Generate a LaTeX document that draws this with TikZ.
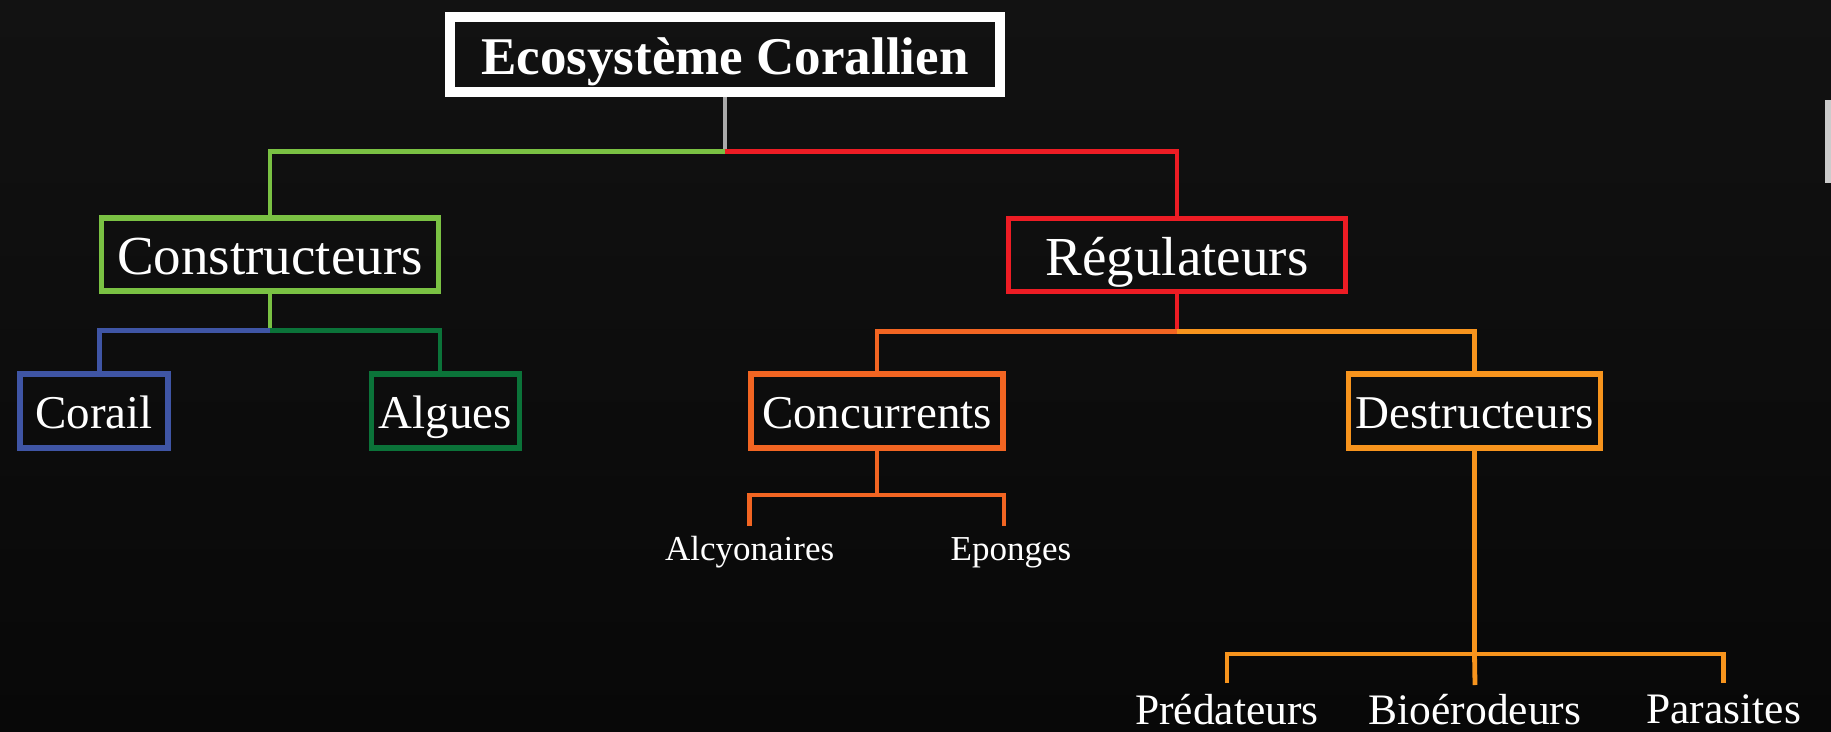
\documentclass[tikz,border=0pt]{standalone}
\usepackage{fontspec}
\setmainfont{Liberation Serif}
\definecolor{bgA}{HTML}{121212}
\definecolor{bgB}{HTML}{080808}
\definecolor{cgreen}{HTML}{7AC143}
\definecolor{cred}{HTML}{ED1C24}
\definecolor{cblue}{HTML}{3F55A5}
\definecolor{cdkgreen}{HTML}{0B7339}
\definecolor{corange}{HTML}{F26522}
\definecolor{cyellow}{HTML}{F7941D}
\definecolor{cgray}{HTML}{AAAAAA}
\definecolor{cscroll}{HTML}{CCCCCC}
\begin{document}
\begin{tikzpicture}[x=1pt,y=-1pt,
  box/.style={draw, line width=5.5pt, inner sep=0pt, text=white, text depth=0pt},
  lvltwo/.style={box, font=\fontsize{55}{60}\selectfont, text height=40pt, minimum width=337pt, minimum height=73pt},
  lvlthree/.style={box, font=\fontsize{47}{52}\selectfont, text height=35pt, minimum height=74.4pt},
  leafsmall/.style={text=white, inner sep=0pt, anchor=north, font=\fontsize{35}{40}\selectfont},
  leafbig/.style={text=white, inner sep=0pt, anchor=north, font=\fontsize{43.5}{48}\selectfont},
  conn/.style={line width=4.8pt}
]
\shade[top color=bgA, bottom color=bgB] (0,0) rectangle (1831,731);
\useasboundingbox (0,0) rectangle (1831,731);
\fill[cscroll] (1825,100) rectangle (1831,183);

% nodes
\node[box, draw=white, line width=10pt, minimum width=550.5pt, minimum height=75.3pt,
      text height=40pt, font=\bfseries\fontsize{53}{60}\selectfont] (title) at (725,54.4) {Ecosystème Corallien};
\node[lvltwo, draw=cgreen] (cons) at (270,254.5) {Constructeurs};
\node[lvltwo, draw=cred] (reg) at (1177,255) {Régulateurs};
\node[lvlthree, draw=cblue, minimum width=148pt] (cor) at (94,411) {Corail};
\node[lvlthree, draw=cdkgreen, minimum width=148pt] (alg) at (445.5,411) {Algues};
\node[lvlthree, draw=corange, minimum width=252pt] (conc) at (877,411) {Concurrents};
\node[lvlthree, draw=cyellow, minimum width=252pt] (dest) at (1474.5,411) {Destructeurs};
\node[leafsmall] (alc) at (749.7,536) {Alcyonaires};
\node[leafsmall] (epo) at (1011,537) {Eponges};
\node[leafbig] (pred) at (1227,694) {Prédateurs};
\node[leafbig] (bio) at (1475,694) {Bioérodeurs};
\node[leafbig] (par) at (1723.6,694) {Parasites};

% levels
\coordinate (h0) at (0,151.8);
\coordinate (h1) at (0,330.5);
\coordinate (h2) at (0,331.6);
\coordinate (h3) at (0,495);
\coordinate (h4) at (0,654);
\coordinate (j0) at (title.south |- h0);
\coordinate (j1) at (cons.south |- h1);
\coordinate (j2) at (reg.south |- h2);
\coordinate (j3) at (conc.south |- h3);
\coordinate (j4) at (dest.south |- h4);

% connectors
\draw[conn, cgray, line width=3.5pt] (title.south) -- (j0);
\draw[conn, cgreen] (j0) -| (cons.north);
\draw[conn, cred] (j0) -| (reg.north);
\draw[conn, cgreen] (cons.south) -- (j1);
\draw[conn, cblue] (j1) -| ([xshift=5.5pt]cor.north);
\draw[conn, cdkgreen] (j1) -| ([xshift=-5.5pt]alg.north);
\draw[conn, cred] (reg.south) -- (j2);
\draw[conn, corange] (j2) -| (conc.north);
\draw[conn, cyellow] (j2) -| (dest.north);
\draw[conn, corange] (conc.south) -- (j3);
\draw[conn, corange] ([yshift=10.5pt]alc.north) |- (j3) -| ([xshift=-7pt,yshift=11.5pt]epo.north);
\draw[conn, cyellow] (dest.south) -- (j4) -- ([yshift=9pt]bio.north);
\draw[conn, cyellow] ([yshift=11pt]pred.north) |- (j4) -| ([yshift=11pt]par.north);
\end{tikzpicture}
\end{document}
